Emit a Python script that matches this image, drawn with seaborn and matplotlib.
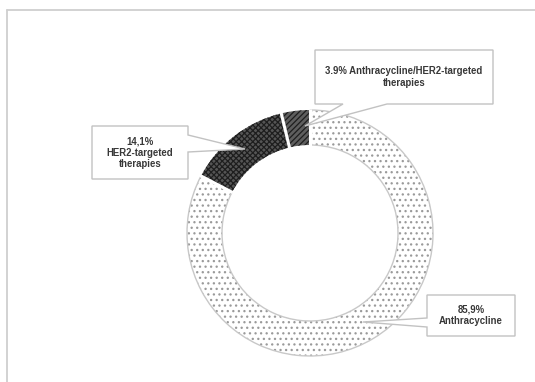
import numpy as np
import matplotlib
matplotlib.use("Agg")
import matplotlib.pyplot as plt
from matplotlib.patches import Polygon
import seaborn as sns

# Treatment groups and their shares (%)
categories = ["Anthracycline", "HER2-targeted\ntherapies", "Anthracycline/HER2-targeted\ntherapies"]
values = [85.9, 14.1, 3.9]
decimal_marks = [",", ",", "."]
label_joins = ["\n", "\n", " "]

# Fill styles per group
hatches = ["...", "xxxxxx", "//////"]
face_colors = ["white", "#555555", "#5e5e5e"]
hatch_colors = ["#9a9a9a", "#1e1e1e", "#1e1e1e"]

W, H = 535, 382
sns.set_style("white")
plt.rcParams["font.family"] = ["Liberation Sans", "DejaVu Sans"]
plt.rcParams["hatch.linewidth"] = 0.9

fig = plt.figure(figsize=(W / 100, H / 100), dpi=100)
ax = fig.add_axes([0, 0, 1, 1])


def py(y):
    return H - y


center = (310, py(233))
R, ring = 123, 35

wedges, _ = ax.pie(values, startangle=90, counterclock=False, radius=R, center=center,
                   colors=face_colors, wedgeprops=dict(width=ring, linewidth=0))
for w, h, hc in zip(wedges, hatches, hatch_colors):
    w.set_hatch(h)
    w.set_edgecolor(hc)
    w.set_linewidth(0)

# Outline only around the dotted ring segment
outlines, _ = ax.pie(values, startangle=90, counterclock=False, radius=R, center=center,
                     wedgeprops=dict(width=ring, fill=False, linewidth=1.0, edgecolor="#c8c8c8"))
for w in outlines[1:]:
    w.set_visible(False)

# White gaps between segments
cum = np.concatenate([[0], np.cumsum(values)]) / np.sum(values)
for f in cum[:-1]:
    a = np.deg2rad(90 - 360 * f)
    r0, r1 = R - ring - 1, R + 1
    ax.plot([center[0] + r0 * np.cos(a), center[0] + r1 * np.cos(a)],
            [center[1] + r0 * np.sin(a), center[1] + r1 * np.sin(a)],
            color="white", lw=2.2, solid_capstyle="butt", zorder=3)

# Callout boxes with pointers
callouts = [
    [(427, 295), (515, 295), (515, 336), (427, 336), (427, 327), (363, 322), (427, 318)],
    [(92, 126), (188, 126), (188, 135), (245, 149), (188, 152), (188, 179), (92, 179)],
    [(315, 50), (493, 50), (493, 104), (387, 104), (305, 126), (343, 104), (315, 104)],
]
boxes = [(427, 295, 515, 336), (92, 126, 188, 179), (315, 50, 493, 104)]

for i, (verts, box) in enumerate(zip(callouts, boxes)):
    poly = Polygon([(x, py(y)) for x, y in verts], closed=True, facecolor="white",
                   edgecolor="#c2c2c2", linewidth=1.0, zorder=5)
    ax.add_patch(poly)
    pct = f"{values[i]:.1f}".replace(".", decimal_marks[i]) + "%"
    text = pct + label_joins[i] + categories[i]
    ax.text((box[0] + box[2]) / 2, py((box[1] + box[3]) / 2), text, ha="center", va="center",
            fontsize=6.9, fontweight="bold", color="#383838", linespacing=1.15, zorder=6)

# Light frame on the left and top
ax.plot([7, 7], [py(382), py(10)], color="#cfcfcf", lw=1.3, zorder=1)
ax.plot([7, W], [py(10), py(10)], color="#cfcfcf", lw=1.3, zorder=1)

ax.set_xlim(0, W)
ax.set_ylim(0, H)
ax.set_aspect("equal")
ax.axis("off")
fig.savefig("out.png", dpi=100)
